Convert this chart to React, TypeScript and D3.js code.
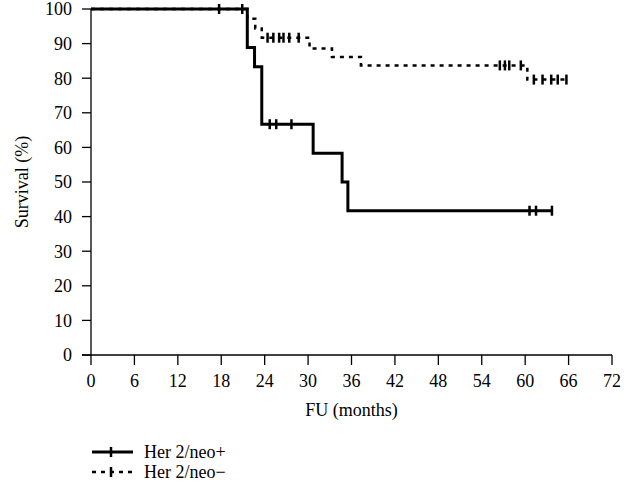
import React from 'react';
import * as d3 from 'd3';

// Kaplan-Meier steps: [month, survival %]
const posSteps: [number, number][] = [
  [0, 100], [21.6, 88.9], [22.6, 83.3], [23.6, 66.7], [30.7, 58.3], [34.7, 50], [35.5, 41.7], [63.7, 41.7],
];
const posCensored = [17.7, 20.9, 24.7, 25.6, 27.7, 60.6, 61.5, 63.7];

const negSteps: [number, number][] = [
  [0, 100], [21.6, 97.2], [22.7, 94.4], [23.6, 91.7], [30.2, 88.6], [33.3, 86.1], [37.3, 83.7], [60.3, 79.6], [65.7, 79.6],
];
const negCensored = [24.4, 25.2, 26.0, 26.6, 27.4, 28.7, 56.5, 57.2, 57.8, 59.4, 61.2, 62.4, 63.6, 64.5, 65.7];

const xTicks = [0, 6, 12, 18, 24, 30, 36, 42, 48, 54, 60, 66, 72];
const yTicks = [0, 10, 20, 30, 40, 50, 60, 70, 80, 90, 100];

const seriesNames = ['Her 2/neo+', 'Her 2/neo\u2212'];

const W = 634;
const H = 490;
const font = '"Liberation Serif", "Times New Roman", serif';
const fs = 18;

const x = d3.scaleLinear().domain([0, 72]).range([91, 612]);
const y = d3.scaleLinear().domain([0, 100]).range([355, 9]);

// survival value at time t from a step list
const valueAt = (steps: [number, number][], t: number) => {
  let v = steps[0][1];
  for (const [m, s] of steps) if (m <= t) v = s;
  return v;
};

const line = d3
  .line<[number, number]>()
  .x(d => x(d[0]))
  .y(d => y(d[1]))
  .curve(d3.curveStepAfter);

const App = () => {
  const series = [
    { steps: negSteps, censored: negCensored, dash: '4,5', width: 2.5 },
    { steps: posSteps, censored: posCensored, dash: undefined, width: 3 },
  ];

  return (
    <svg
      width={W}
      height={H}
      style={{ position: 'absolute', left: 0, top: 0, background: '#fff' }}
      fontFamily={font}
    >
      {/* curves */}
      {series.map((s, i) => (
        <g key={i}>
          <path d={line(s.steps) || ''} fill="none" stroke="#000" strokeWidth={s.width} strokeDasharray={s.dash} />
          {s.censored.map(t => (
            <line
              key={t}
              x1={x(t)}
              x2={x(t)}
              y1={y(valueAt(s.steps, t)) - 5}
              y2={y(valueAt(s.steps, t)) + 5}
              stroke="#000"
              strokeWidth={2.5}
            />
          ))}
        </g>
      ))}

      {/* y axis */}
      <line x1={x(0)} x2={x(0)} y1={y(100)} y2={y(0)} stroke="#000" strokeWidth={1.3} />
      {yTicks.map(t => (
        <g key={t}>
          <line x1={x(0) - 9} x2={x(0)} y1={y(t)} y2={y(t)} stroke="#000" strokeWidth={1.3} />
          <text x={72} y={y(t)} dy="0.35em" textAnchor="end" fontSize={fs}>
            {t}
          </text>
        </g>
      ))}
      <text transform={`translate(22,${y(50)}) rotate(-90)`} textAnchor="middle" dy="0.35em" fontSize={fs}>
        Survival (%)
      </text>

      {/* x axis */}
      <line x1={x(0) - 9} x2={x(72)} y1={y(0)} y2={y(0)} stroke="#000" strokeWidth={1.3} />
      {xTicks.map(t => (
        <g key={t}>
          <line x1={x(t)} x2={x(t)} y1={y(0)} y2={y(0) + 10} stroke="#000" strokeWidth={1.3} />
          <text x={x(t)} y={381} dy="0.35em" textAnchor="middle" fontSize={fs}>
            {t}
          </text>
        </g>
      ))}
      <text x={(x(0) + x(72)) / 2} y={410} dy="0.35em" textAnchor="middle" fontSize={fs}>
        FU (months)
      </text>

      {/* legend */}
      {seriesNames.map((name, i) => {
        const ly = 452 + i * 20;
        const s = i === 0 ? series[1] : series[0];
        return (
          <g key={name}>
            <line x1={92} x2={133} y1={ly} y2={ly} stroke="#000" strokeWidth={s.width} strokeDasharray={s.dash} />
            <line x1={111} x2={111} y1={ly - 5} y2={ly + 5} stroke="#000" strokeWidth={2.5} />
            <text x={144} y={ly} dy="0.35em" fontSize={fs}>
              {name}
            </text>
          </g>
        );
      })}
    </svg>
  );
};

export default App;
